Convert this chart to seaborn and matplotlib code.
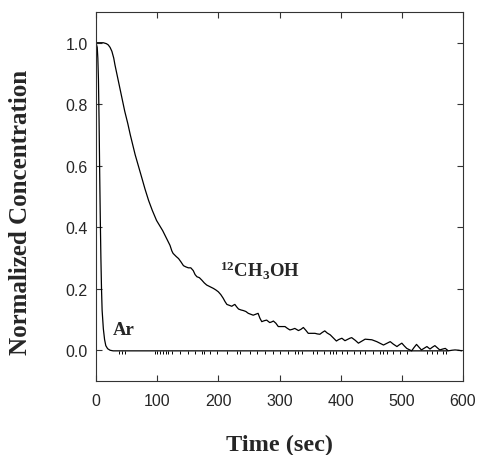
import matplotlib
matplotlib.use('Agg')
import pandas as pd
import matplotlib.pyplot as plt
import seaborn as sns

# 12CH3OH response
meoh_time = [0, 5, 12, 17, 20, 23, 26, 29, 31, 35, 39, 43, 47, 52, 56, 60, 64, 70, 75, 80,
             86, 92, 99, 105, 109, 113, 117, 121, 124, 126, 131, 135, 139, 143, 147, 151, 155,
             159, 162, 165, 169, 173, 177, 181, 186, 192, 196, 200, 204, 208, 211, 214, 218,
             222, 225, 227, 230, 233, 237, 241, 245, 249, 253, 257, 261, 265, 268, 271, 275,
             279, 284, 287, 290, 294, 298, 304, 309, 313, 317, 321, 325, 331, 335, 339, 343,
             347, 352, 358, 362, 366, 370, 374, 378, 383, 388, 393, 397, 402, 407, 411, 415,
             418, 424, 429, 435, 440, 446, 451, 455, 459, 465, 470, 476, 481, 486, 492, 496,
             500, 504, 508, 512, 516, 520, 524, 528, 532, 537, 541, 546, 550, 554, 558, 562,
             567, 571, 576, 582, 587, 593, 598]
meoh_conc = [1.0, 1.0, 1.0, 0.997, 0.993, 0.985, 0.972, 0.95, 0.928, 0.89, 0.852, 0.813, 0.777,
             0.737, 0.701, 0.668, 0.636, 0.595, 0.56, 0.525, 0.487, 0.455, 0.422, 0.402, 0.389,
             0.373, 0.357, 0.341, 0.323, 0.315, 0.305, 0.298, 0.287, 0.275, 0.271, 0.268, 0.268,
             0.259, 0.246, 0.239, 0.236, 0.228, 0.219, 0.212, 0.207, 0.201, 0.196, 0.19, 0.181,
             0.169, 0.158, 0.149, 0.146, 0.143, 0.147, 0.149, 0.141, 0.134, 0.131, 0.129, 0.126,
             0.12, 0.117, 0.114, 0.117, 0.12, 0.104, 0.093, 0.096, 0.098, 0.09, 0.092, 0.095,
             0.088, 0.077, 0.077, 0.077, 0.071, 0.066, 0.068, 0.071, 0.064, 0.068, 0.074, 0.065,
             0.055, 0.055, 0.055, 0.053, 0.052, 0.058, 0.063, 0.056, 0.05, 0.04, 0.03, 0.035,
             0.039, 0.031, 0.035, 0.039, 0.041, 0.032, 0.023, 0.03, 0.036, 0.035, 0.034, 0.031,
             0.028, 0.022, 0.017, 0.023, 0.028, 0.02, 0.012, 0.018, 0.023, 0.014, 0.006, 0.002,
             -0.002, 0.009, 0.019, 0.01, 0.001, 0.007, 0.012, 0.004, 0.01, 0.015, 0.008, 0.001,
             0.004, 0.006, -0.002, 0.0, 0.001, 0.0, -0.002]

# Ar tracer
ar_time = [0, 2, 3, 4, 5, 6, 7, 8, 9, 10, 12, 14, 16, 19, 23, 28, 575]
ar_conc = [1.0, 0.985, 0.95, 0.88, 0.75, 0.58, 0.43, 0.3, 0.2, 0.13, 0.07, 0.035, 0.015,
           0.005, 0.0, -0.002, -0.002]
# small negative noise spikes on the Ar baseline
ar_spike_time = [38, 43, 47, 96, 100, 105, 110, 114, 118, 124, 137, 151, 162, 173, 177, 186,
                 198, 214, 230, 235, 252, 263, 276, 290, 301, 314, 325, 331, 336, 355, 362,
                 372, 383, 388, 393, 402, 410, 421, 432, 440, 453, 464, 470, 475, 486, 497,
                 508, 541, 549, 557, 568, 573]
ar_spike_depth = -0.011

xticks = [0, 100, 200, 300, 400, 500, 600]
yticks = [0.0, 0.2, 0.4, 0.6, 0.8, 1.0]

sns.set_style('ticks')
plt.rcParams['font.family'] = ['Liberation Sans', 'DejaVu Sans']
plt.rcParams['mathtext.fontset'] = 'custom'
plt.rcParams['mathtext.rm'] = 'Liberation Serif:bold'
plt.rcParams['mathtext.it'] = 'Liberation Serif:bold'
plt.rcParams['mathtext.bf'] = 'Liberation Serif:bold'

fig = plt.figure(figsize=(4.8, 4.56), dpi=100)
ax = fig.add_axes([0.2, 0.1623, 0.7646, 0.8092])

df_meoh = pd.DataFrame({'time': meoh_time, 'conc': meoh_conc})
df_ar = pd.DataFrame({'time': ar_time, 'conc': ar_conc})
sns.lineplot(x='time', y='conc', data=df_meoh, color='black', lw=0.9,
             estimator=None, sort=False, ax=ax)
sns.lineplot(x='time', y='conc', data=df_ar, color='black', lw=0.9,
             estimator=None, sort=False, ax=ax)
ax.vlines(ar_spike_time, ar_spike_depth, -0.002, color='black', lw=0.7)

serif = dict(family='Liberation Serif', weight='bold')
ax.text(28, 0.068, 'Ar', fontsize=13.5, va='center', ha='left', **serif)
ax.text(202, 0.24, r'$^{12}$CH$_3$OH', fontsize=13.5, va='baseline', ha='left', **serif)

ax.set_xlim(0, 600)
ax.set_ylim(-0.1, 1.1)
ax.set_xticks(xticks)
ax.set_yticks(yticks)
ax.set_yticklabels(['{:.1f}'.format(v) for v in yticks])
ax.tick_params(direction='in', top=True, right=True, length=4.5, width=0.8,
               labelsize=11.5, color='#333333')
ax.tick_params(axis='x', pad=9)
ax.tick_params(axis='y', pad=6)
for s in ax.spines.values():
    s.set_linewidth(0.8)
    s.set_color('#333333')

ax.set_xlabel('Time (sec)', fontsize=17.5, labelpad=18, **serif)
ax.set_ylabel('Normalized Concentration', fontsize=18, **serif)
ax.yaxis.set_label_coords(-0.175, 0.46)

plt.savefig('out.png', dpi=100)
plt.close()
